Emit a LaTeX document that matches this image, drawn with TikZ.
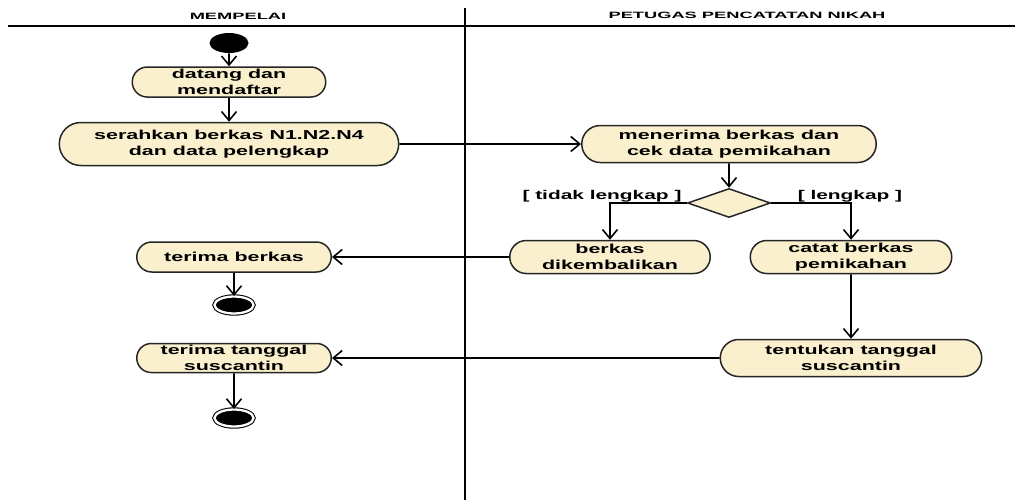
\documentclass[tikz,border=0pt]{standalone}
\usepackage{fontspec}
\newfontfamily\lanefont[FakeStretch=1.65]{Liberation Sans}
\newfontfamily\headfont[FakeStretch=2]{Liberation Sans}
\usetikzlibrary{shapes.misc,shapes.geometric,arrows.meta}
\definecolor{actfill}{RGB}{250,240,205}
\tikzset{
  act/.style={rounded rectangle, draw=black!85, fill=actfill, line width=0.85pt,
    align=center, inner sep=1pt, font=\lanefont\bfseries\fontsize{7.4}{9}\selectfont},
  flow/.style={line width=0.9pt, -{Straight Barb[length=1.8mm,width=3mm]}},
  guard/.style={font=\lanefont\bfseries\fontsize{7.2}{9}\selectfont},
  lane/.style={font=\headfont\bfseries\fontsize{5.2}{6}\selectfont},
  enddot/.style={ellipse, fill=black, draw, double, double distance=1.3pt,
    line width=0.6pt, minimum width=0.78cm, minimum height=0.34cm, inner sep=0pt}
}
\begin{document}
\begin{tikzpicture}
\useasboundingbox (0,0) rectangle (20.4,-10.04);
% swimlanes
\draw[line width=0.9pt] (0.16,-0.52) -- (20.3,-0.52);
\draw[line width=0.9pt] (9.3,-0.16) -- (9.3,-10);
\node[lane] (mempelai) at (4.76,-0.32) {MEMPELAI};
\node[lane] (petugas) at (14.94,-0.30) {PETUGAS PENCATATAN NIKAH};

% mempelai
\node[ellipse, fill=black, minimum width=0.78cm, minimum height=0.4cm, inner sep=0pt]
  (start) at (4.58,-0.86) {};
\node[act, minimum width=3.94cm, minimum height=0.6cm] (datang) at (4.58,-1.64)
  {datang dan\\mendaftar};
\node[act, minimum width=6.86cm, minimum height=0.86cm] (serahkan) at (4.58,-2.88)
  {serahkan berkas N1.N2.N4\\dan data pelengkap};
\node[act, minimum width=3.96cm, minimum height=0.6cm] (terimaberkas) at (4.68,-5.14)
  {terima berkas};
\node[enddot] (end1) at (4.68,-6.1) {};
\node[act, minimum width=3.96cm, minimum height=0.58cm] (terimatgl) at (4.68,-7.16)
  {terima tanggal\\suscantin};
\node[enddot] (end2) at (4.68,-8.36) {};

% petugas
\node[act, minimum width=5.96cm, minimum height=0.74cm] (menerima) at (14.58,-2.88)
  {menerima berkas dan\\cek data pemikahan};
\node[diamond, draw=black!85, fill=actfill, line width=0.85pt, aspect=2.9,
  minimum width=1.66cm, minimum height=0.58cm, inner sep=0pt] (cek) at (14.58,-4.06) {};
\node[act, minimum width=4.08cm, minimum height=0.66cm] (kembali) at (12.2,-5.14)
  {berkas\\dikembalikan};
\node[act, minimum width=4.1cm, minimum height=0.66cm] (catat) at (17.02,-5.14)
  {catat berkas\\pemikahan};
\node[act, minimum width=5.3cm, minimum height=0.74cm] (tentukan) at (17.02,-7.16)
  {tentukan tanggal\\suscantin};
\node[guard] (tidak) at (12.04,-3.92) {[ tidak lengkap ]};
\node[guard] (lengkap) at (17.0,-3.92) {[ lengkap ]};

% alur
\draw[flow] (start) -- (datang);
\draw[flow] (datang) -- (serahkan);
\draw[flow] (serahkan) -- (menerima);
\draw[flow] (menerima) -- (cek);
\draw[flow] (cek.west) -| (kembali.north);
\draw[flow] (cek.east) -| (catat.north);
\draw[flow] (kembali) -- (terimaberkas);
\draw[flow] (terimaberkas) -- (end1);
\draw[flow] (catat) -- (tentukan);
\draw[flow] (tentukan) -- (terimatgl);
\draw[flow] (terimatgl) -- (end2);
\end{tikzpicture}
\end{document}
